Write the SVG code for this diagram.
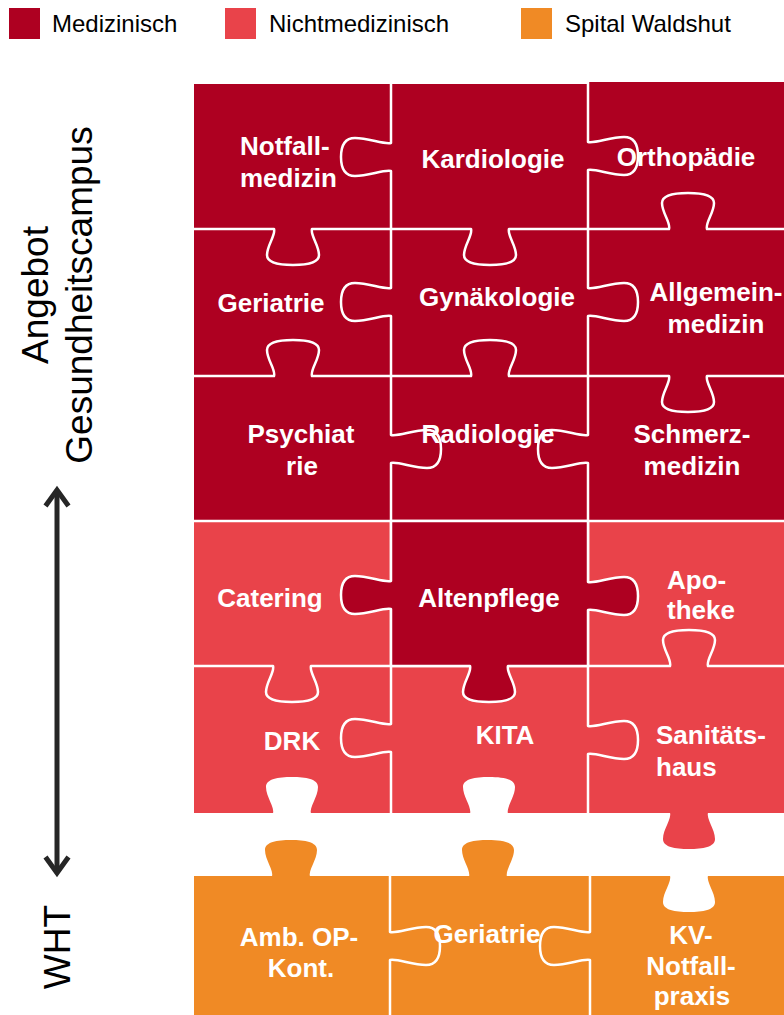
<svg xmlns="http://www.w3.org/2000/svg" width="784" height="1015" viewBox="0 0 784 1015">
<style>
.dk{fill:#AE0021}
.lt{fill:#E9434A}
.or{fill:#F08A25}
.wh{fill:#FFFFFF}
.seam{fill:none;stroke:#FFFFFF;stroke-width:2.5;stroke-linejoin:round}
.lbl{font-family:"Liberation Sans",Arial,sans-serif;font-weight:bold;font-size:26px;fill:#FFFFFF;text-anchor:middle}
.st{text-anchor:start}
.leg{font-family:"Liberation Sans",Arial,sans-serif;font-size:24px;fill:#000000}
.side{font-family:"Liberation Sans",Arial,sans-serif;font-size:37px;fill:#000000;text-anchor:middle}
.arr{fill:none;stroke:#262626;stroke-width:5;stroke-linejoin:miter;stroke-miterlimit:10}
</style>
<rect width="784" height="1015" fill="#FFFFFF"/>

<g id="legend">
<rect class="dk" x="9" y="8" width="31" height="31"/>
<text class="leg" x="52" y="32">Medizinisch</text>
<rect class="lt" x="225" y="8" width="31" height="31"/>
<text class="leg" x="269" y="32">Nichtmedizinisch</text>
<rect class="or" x="521" y="8" width="31" height="31"/>
<text class="leg" x="565" y="32">Spital Waldshut</text>
</g>

<g id="axis">
<text class="side" transform="translate(48,295) rotate(-90)">Angebot</text>
<text class="side" transform="translate(92,295) rotate(-90)">Gesundheitscampus</text>
<text class="side" transform="translate(70,947) rotate(-90)">WHT</text>
<path class="arr" d="M57,490 L57,873"/>
<path class="arr" d="M45.5,506 L57,490 L68.5,506"/>
<path class="arr" d="M45.5,857 L57,873 L68.5,857"/>
</g>

<g id="areas">
<rect class="dk" x="194" y="84" width="590" height="437"/>
<rect class="dk" x="588" y="82" width="196" height="3"/>
<rect class="lt" x="194" y="521" width="590" height="292"/>
<path class="lt" d="M670,812 C672,819 663,829 663,839 C663,847 675,849 689,849 C703,849 715,847 715,839 C715,829 706,819 708,812 Z"/>
<path class="wh" d="M273,814 C275,807 266,797 266,787 C266,779 278,777 292,777 C306,777 318,779 318,787 C318,797 309,807 311,814 Z"/>
<path class="wh" d="M470,814 C472,807 463,797 463,787 C463,779 475,777 489,777 C503,777 515,779 515,787 C515,797 506,807 508,814 Z"/>
<rect class="or" x="194" y="876" width="590" height="139"/>
<path class="or" d="M272,877 C274,870 265,860 265,850 C265,842 277,840 291,840 C305,840 317,842 317,850 C317,860 308,870 310,877 Z"/>
<path class="or" d="M469,877 C471,870 462,860 462,850 C462,842 474,840 488,840 C502,840 514,842 514,850 C514,860 505,870 507,877 Z"/>
<path class="wh" d="M670,875 C672,882 663,892 663,902 C663,910 675,912 689,912 C703,912 715,910 715,902 C715,892 706,882 708,875 Z"/>
</g>

<g id="connectors">
<path class="seam" d="M194,229 L274,229 C276,235 267,245 267,255 C267,263 279,265 293,265 C307,265 319,263 319,255 C319,245 310,235 312,229 L471,229 C473,235 464,245 464,255 C464,263 476,265 490,265 C504,265 516,263 516,255 C516,245 507,235 509,229 L669,229 C671,223 662,213 662,203 C662,195 674,193 688,193 C702,193 714,195 714,203 C714,213 705,223 707,229 L784,229"/>
<path class="seam" d="M194,376 L274,376 C276,370 267,360 267,350 C267,342 279,340 293,340 C307,340 319,342 319,350 C319,360 310,370 312,376 L471,376 C473,370 464,360 464,350 C464,342 476,340 490,340 C504,340 516,342 516,350 C516,360 507,370 509,376 L669,376 C671,382 662,392 662,402 C662,410 674,412 688,412 C702,412 714,410 714,402 C714,392 705,382 707,376 L784,376"/>
<path class="seam" d="M194,521 L784,521"/>
<path class="seam" d="M194,666 L273,666 C275,672 266,682 266,692 C266,700 278,702 292,702 C306,702 318,700 318,692 C318,682 309,672 311,666 L670,666 C672,660 663,650 663,640 C663,632 675,630 689,630 C703,630 715,632 715,640 C715,650 706,660 708,666 L784,666"/>
<path class="seam" d="M391,84 L391,143 C383,144.5 369,138 355,138 C344,138 341,147 341,157 C341,167 344,176 355,176 C369,176 383,169.5 391,171 L391,288 C383,289.5 369,283 355,283 C344,283 341,292 341,302 C341,312 344,321 355,321 C369,321 383,314.5 391,316 L391,435 C399,436.5 413,430 427,430 C438,430 441,439 441,449 C441,459 438,468 427,468 C413,468 399,461.5 391,463 L391,724 C383,725.5 369,719 355,719 C344,719 341,728 341,738 C341,748 344,757 355,757 C369,757 383,750.5 391,752 L391,813"/>
<path class="seam" d="M588,82 L588,142 C596,143.5 610,137 624,137 C635,137 638,146 638,156 C638,166 635,175 624,175 C610,175 596,168.5 588,170 L588,288 C596,289.5 610,283 624,283 C635,283 638,292 638,302 C638,312 635,321 624,321 C610,321 596,314.5 588,316 L588,435 C580,436.5 566,430 552,430 C541,430 538,439 538,449 C538,459 541,468 552,468 C566,468 580,461.5 588,463 L588,726 C596,727.5 610,721 624,721 C635,721 638,730 638,740 C638,750 635,759 624,759 C610,759 596,752.5 588,754 L588,813"/>
<path class="seam" d="M390,876 L390,932 C398,933.5 412,927 426,927 C437,927 440,936 440,946 C440,956 437,965 426,965 C412,965 398,958.5 390,960 L390,1015"/>
<path class="seam" d="M590,876 L590,932 C582,933.5 568,927 554,927 C543,927 540,936 540,946 C540,956 543,965 554,965 C568,965 582,958.5 590,960 L590,1015"/>
</g>

<g id="altenpflege">
<path class="dk" stroke="#FFFFFF" stroke-width="2.5" stroke-linejoin="round" d="M391,521 L588,521 L588,582 C596,583.5 610,577 624,577 C635,577 638,586 638,596 C638,606 635,615 624,615 C610,615 596,608.5 588,610 L588,666 L508,666 C506,672 515,682 515,692 C515,700 503,702 489,702 C475,702 463,700 463,692 C463,682 472,672 470,666 L391,666 L391,609 C383,607.5 369,614 355,614 C344,614 341,605 341,595 C341,585 344,576 355,576 C369,576 383,582.5 391,581 Z"/>
<text class="lbl" x="489" y="607">Altenpflege</text>
</g>

<g id="notfallmedizin"><text class="lbl st" x="240" y="155">Notfall-</text><text class="lbl st" x="240" y="187">medizin</text></g>
<g id="kardiologie"><text class="lbl" x="493" y="168">Kardiologie</text></g>
<g id="orthopaedie"><text class="lbl" x="686" y="166">Orthopädie</text></g>
<g id="geriatrie"><text class="lbl" x="271" y="312">Geriatrie</text></g>
<g id="gynaekologie"><text class="lbl" x="497" y="306">Gynäkologie</text></g>
<g id="allgemeinmedizin"><text class="lbl" x="716" y="301">Allgemein-</text><text class="lbl" x="716" y="333">medizin</text></g>
<g id="psychiatrie"><text class="lbl" x="301" y="443">Psychiat</text><text class="lbl" x="302" y="475">rie</text></g>
<g id="radiologie"><text class="lbl" x="488" y="443">Radiologie</text></g>
<g id="schmerzmedizin"><text class="lbl" x="692" y="443">Schmerz-</text><text class="lbl" x="692" y="475">medizin</text></g>
<g id="catering"><text class="lbl" x="270" y="607">Catering</text></g>
<g id="apotheke"><text class="lbl st" x="667" y="589">Apo-</text><text class="lbl st" x="667" y="619">theke</text></g>
<g id="drk"><text class="lbl" x="292" y="750">DRK</text></g>
<g id="kita"><text class="lbl" x="505" y="744">KITA</text></g>
<g id="sanitaetshaus"><text class="lbl st" x="656" y="744">Sanitäts-</text><text class="lbl st" x="656" y="776">haus</text></g>
<g id="amb-op"><text class="lbl" x="299" y="946">Amb. OP-</text><text class="lbl" x="301" y="977">Kont.</text></g>
<g id="geriatrie-wht"><text class="lbl" x="487" y="943">Geriatrie</text></g>
<g id="kv-notfallpraxis"><text class="lbl" x="691" y="944">KV-</text><text class="lbl" x="691" y="975">Notfall-</text><text class="lbl" x="692" y="1005">praxis</text></g>
</svg>
